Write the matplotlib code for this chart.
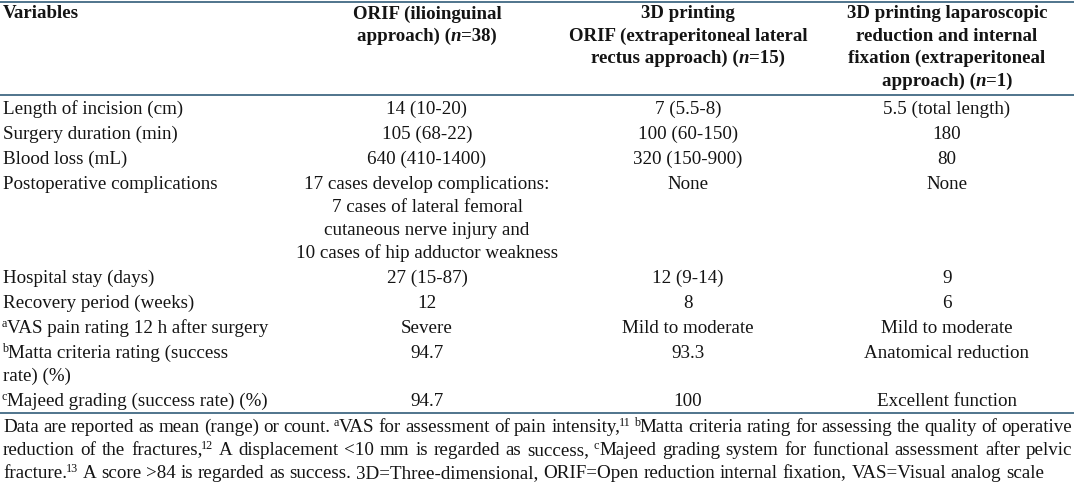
import re
import matplotlib
matplotlib.use("Agg")
import matplotlib.pyplot as plt

# ---------------- data ----------------
headers = [
    "Variables",
    "ORIF (ilioinguinal\napproach) (*n*=38)",
    "3D printing\nORIF (extraperitoneal lateral\nrectus approach) (*n*=15)",
    "3D printing laparoscopic\nreduction and internal\nfixation (extraperitoneal\napproach) (*n*=1)",
]
variables = [
    "Length of incision (cm)",
    "Surgery duration (min)",
    "Blood loss (mL)",
    "Postoperative complications",
    "Hospital stay (days)",
    "Recovery period (weeks)",
    "^{a}VAS pain rating 12 h after surgery",
    "^{b}Matta criteria rating (success\nrate) (%)",
    "^{c}Majeed grading (success rate) (%)",
]
orif = [
    "14 (10-20)",
    "105 (68-22)",
    "640 (410-1400)",
    "17 cases develop complications:\n7 cases of lateral femoral\ncutaneous nerve injury and\n10 cases of hip adductor weakness",
    "27 (15-87)",
    "12",
    "Severe",
    "94.7",
    "94.7",
]
printing_orif = [
    "7 (5.5-8)",
    "100 (60-150)",
    "320 (150-900)",
    "None",
    "12 (9-14)",
    "8",
    "Mild to moderate",
    "93.3",
    "100",
]
laparoscopic = [
    "5.5 (total length)",
    "180",
    "80",
    "None",
    "9",
    "6",
    "Mild to moderate",
    "Anatomical reduction",
    "Excellent function",
]
footnote_lines = [
    "Data are reported as mean (range) or count. ^{a}VAS for assessment of pain intensity,^{11} ^{b}Matta criteria rating for assessing the quality of operative",
    "reduction of the fractures,^{12} A displacement <10 mm is regarded as success, ^{c}Majeed grading system for functional assessment after pelvic",
    "fracture.^{13} A score >84 is regarded as success. 3D=Three-dimensional, ORIF=Open reduction internal fixation, VAS=Visual analog scale",
]

# ---------------- layout ----------------
W, H = 1084, 497
FAM = "Liberation Serif"
TXT = "#141414"
RULE = "#1f4e6e"
col_left = 3
col_centers = [427, 688, 947]
header_base = 18.5
header_step = 22.4
first_row_base = 114
row_step = 25
line_step = 23
top_rule, mid_rule, bot_rule = 1.5, 94.5, 412.5
rule_x0, rule_x1 = 0, 1074
foot_base = 432
foot_step = 23.2
foot_left, foot_right = 3, 1072
last_line_width = 1043  # natural width of the last footnote line in the reference
SUP_SCALE = 0.64
SUP_RISE = 0.34
SUP_TIGHT = 0.07

fig = plt.figure(figsize=(W / 100, H / 100), dpi=100)
ax = fig.add_axes([0, 0, 1, 1])
ax.set_xlim(0, W)
ax.set_ylim(H, 0)
ax.axis("off")
renderer = fig.canvas.get_renderer()


def _w(s, size, weight="normal", style="normal"):
    t = ax.text(0, 0, s, family=FAM, fontsize=size, weight=weight, style=style)
    w = t.get_window_extent(renderer).width
    t.remove()
    return w


def adv(s, size, weight="normal", style="normal"):
    return _w("|" + s + "|", size, weight, style) - _w("||", size, weight, style)


TOK = re.compile(r"\^\{([^}]*)\}|\*([^*]*)\*|([^^*]+)")


def parse(s, bold=False):
    runs = []
    for m in TOK.finditer(s):
        sup, ital, plain = m.groups()
        w = "bold" if bold else "normal"
        if sup is not None:
            runs.append((sup, dict(weight=w, style="normal", sup=True)))
        elif ital is not None:
            runs.append((ital, dict(weight=w, style="italic", sup=False)))
        else:
            runs.append((plain, dict(weight=w, style="normal", sup=False)))
    return runs


def layout_runs(runs, size):
    """Return per-run (width, pre-shift)."""
    out = []
    prev = ""
    for txt, st in runs:
        sz = size * SUP_SCALE if st["sup"] else size
        w = adv(txt, sz, st["weight"], st["style"])
        s = -size * 100 / 72 * SUP_TIGHT if (st["sup"] and prev[-1:] in ",.") else 0.0
        out.append((w, s))
        prev = txt
    return out


def runs_width(runs, size):
    return sum(w + s for w, s in layout_runs(runs, size))


def draw_runs(x, y, runs, size, ha="left"):
    lay = layout_runs(runs, size)
    total = sum(w + s for w, s in lay)
    if ha == "center":
        x = x - total / 2
    for (txt, st), (w, s) in zip(runs, lay):
        x += s
        if st["sup"]:
            sz = size * SUP_SCALE
            yy = y - size * 100 / 72 * SUP_RISE
        else:
            sz = size
            yy = y
        ax.text(x, yy, txt, family=FAM, fontsize=sz, weight=st["weight"],
                style=st["style"], color=TXT, ha="left", va="baseline")
        x += w
    return total


def draw_cell(x, y, text, size, ha="left", bold=False):
    for i, line in enumerate(text.split("\n")):
        draw_runs(x, y + i * (header_step if bold else line_step), parse(line, bold), size, ha)


def natural_width(text, size):
    words = text.split(" ")
    return sum(runs_width(parse(wd), size) for wd in words) + (len(words) - 1) * adv(" ", size)


def draw_justified(y, text, size, left, right, justify=True):
    words = text.split(" ")
    toks = [parse(wd) for wd in words]
    widths = [runs_width(t, size) for t in toks]
    if justify and len(words) > 1:
        gap = (right - left - sum(widths)) / (len(words) - 1)
    else:
        gap = adv(" ", size)
    x = left
    for t, w in zip(toks, widths):
        draw_runs(x, y, t, size)
        x += w + gap


# calibrate font sizes against widths measured in the reference
FS = 10 * last_line_width / natural_width(footnote_lines[-1], 10)
FS_HEAD = 10 * 240 / adv("ORIF (extraperitoneal lateral", 10, weight="bold")

# rules
for yy in (top_rule, mid_rule, bot_rule):
    ax.plot([rule_x0, rule_x1], [yy, yy], color=RULE, lw=1.1, solid_capstyle="butt")

# header
draw_cell(col_left, header_base, headers[0], FS_HEAD, "left", bold=True)
for c, htxt in zip(col_centers, headers[1:]):
    draw_cell(c, header_base, htxt, FS_HEAD, "center", bold=True)

# body
y = first_row_base
for var, a, b, c in zip(variables, orif, printing_orif, laparoscopic):
    draw_cell(col_left, y, var, FS, "left")
    draw_cell(col_centers[0], y, a, FS, "center")
    draw_cell(col_centers[1], y, b, FS, "center")
    draw_cell(col_centers[2], y, c, FS, "center")
    n = max(s.count("\n") + 1 for s in (var, a, b, c))
    y += row_step + (n - 1) * line_step

# footnote
for i, line in enumerate(footnote_lines):
    draw_justified(foot_base + i * foot_step, line, FS, foot_left, foot_right,
                   justify=(i < len(footnote_lines) - 1))

fig.savefig("out.png", dpi=100, facecolor="white")
